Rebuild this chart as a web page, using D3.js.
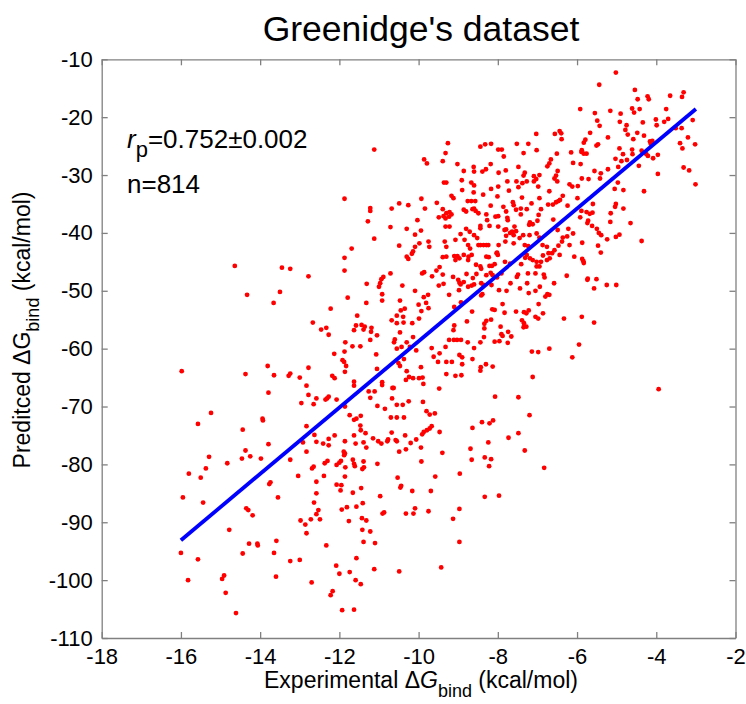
<!DOCTYPE html>
<html>
<head>
<meta charset="utf-8">
<script src="https://cdn.jsdelivr.net/npm/d3@7"></script>
<style>
  body { margin: 0; background: #fff; }
  svg text { font-family: "Liberation Sans", Arial, Helvetica, sans-serif; }
</style>
</head>
<body>
<svg id="chart" width="746" height="704"></svg>
<script>
// axis ticks
const xTicks = [-18, -16, -14, -12, -10, -8, -6, -4, -2];
const yTicks = [-110, -100, -90, -80, -70, -60, -50, -40, -30, -20, -10];

// fitted line end points (experimental, predicted)
const fitX = [-16, -3];
const fitY = [-93.1, -18.6];

const ptsFarLeftTop = [
  [-14.64,-45.7],[-13.45,-46.0],[-13.24,-46.2],[-12.78,-47.5],[-14.33,-50.7],[-13.50,-50.2],[-13.66,-52.1],
  [-15.98,-63.9],[-14.37,-64.4],[-13.81,-63.0],[-13.65,-64.6],[-13.28,-64.7],[-13.24,-64.3],[-13.00,-65.0],
  [-12.78,-63.3],[-12.83,-66.4],[-12.78,-68.0],[-13.79,-67.6],[-12.96,-69.4],[-15.24,-71.1],[-15.57,-73.0],
  [-13.94,-72.1],[-13.93,-72.4],[-14.44,-74.0],[-12.83,-73.4]
];
const ptsFarLeftBottom = [
  [-13.79,-76.5],[-14.37,-77.6],[-14.25,-78.6],[-14.46,-79.0],[-13.98,-79.0],[-15.29,-78.7],[-15.37,-80.7],
  [-14.83,-79.8],[-15.80,-81.6],[-15.50,-82.3],[-13.24,-79.2],[-12.92,-76.2],[-12.83,-77.8],[-13.04,-82.0],
  [-13.77,-83.4],[-13.74,-83.1],[-15.95,-85.7],[-15.44,-86.6],[-13.55,-85.7],[-14.35,-87.6],[-14.30,-87.9],
  [-14.19,-88.8],[-12.98,-89.7],[-12.86,-90.4],[-12.83,-91.9],[-14.78,-91.3],[-14.28,-93.7],[-14.07,-93.7],
  [-14.06,-94.0],[-13.59,-93.2],[-16.00,-95.3],[-15.57,-96.4],[-14.44,-95.4],[-13.65,-95.3],[-13.24,-96.7],
  [-13.00,-96.5],[-15.82,-100.0],[-14.91,-99.2],[-14.96,-99.8],[-14.87,-102.2],[-13.60,-99.4],[-14.61,-105.7]
];
const ptsLeftTop = [
  [-11.12,-25.6],[-9.86,-27.3],[-9.79,-28.0],[-9.39,-27.6],[-9.36,-31.3],[-11.87,-34.1],[-11.22,-35.7],
  [-11.22,-36.2],[-11.28,-38.0],[-11.12,-41.0],[-10.68,-35.8],[-10.49,-34.9],[-10.26,-35.2],[-9.93,-34.1],
  [-9.84,-35.8],[-9.54,-34.8],[-9.39,-35.9],[-9.49,-37.3],[-9.37,-37.1],[-10.03,-37.8],[-9.94,-39.6],
  [-10.30,-39.3],[-10.71,-39.0],[-10.09,-40.3],[-9.75,-41.5],[-9.73,-42.4],[-9.98,-41.8],[-10.09,-42.4],
  [-10.14,-43.2],[-10.17,-43.6],[-10.30,-44.1],[-10.26,-44.5],[-10.49,-42.2],[-11.69,-42.7],[-11.87,-44.3],
  [-11.87,-46.5],[-10.89,-47.6],[-10.94,-48.0],[-10.71,-47.0],[-10.97,-48.7],[-11.00,-49.3],[-10.92,-50.6],
  [-10.92,-51.7],[-11.31,-48.8],[-11.79,-51.2],[-11.32,-52.1],[-10.41,-49.1],[-10.09,-50.0],[-9.86,-46.8],
  [-9.87,-51.1],[-9.76,-50.7],[-9.81,-52.1],[-9.91,-47.0],[-9.66,-47.5],[-9.55,-46.5],[-9.47,-45.9],
  [-9.39,-47.2],[-9.49,-49.1],[-9.37,-48.8],[-10.47,-51.7],[-10.35,-53.1],[-10.00,-52.4],[-9.75,-53.0],
  [-9.93,-53.5],[-10.45,-53.4],[-10.55,-54.3],[-10.68,-55.1],[-10.55,-55.6],[-10.39,-54.5],[-10.38,-55.5],
  [-10.16,-55.6],[-9.99,-54.8],[-11.55,-54.3],[-12.67,-55.5],[-12.46,-56.7],[-12.33,-56.4],[-12.27,-57.6],
  [-12.22,-53.1],[-11.63,-56.8],[-11.58,-56.0],[-11.44,-55.9],[-11.39,-56.7],[-11.36,-56.2],[-11.19,-56.4],
  [-11.20,-57.1],[-11.05,-57.7],[-11.22,-58.5],[-10.47,-57.2],[-11.85,-58.9],[-11.67,-59.6],[-11.47,-59.6],
  [-10.60,-58.4],[-10.62,-58.9],[-10.30,-58.9],[-10.14,-58.0],[-10.55,-60.0],[-10.43,-59.7],[-10.22,-59.7],
  [-10.06,-60.3],[-9.67,-59.9],[-9.47,-60.8],[-9.62,-61.4],[-9.51,-62.3],[-9.94,-63.2],[-10.37,-61.8],
  [-10.51,-62.5],[-10.47,-63.0],[-10.30,-63.9],[-10.24,-64.9],[-10.14,-65.1],[-9.99,-65.1],[-9.90,-65.0],
  [-11.07,-61.0],[-11.05,-63.5],[-11.87,-60.5],[-11.92,-62.0],[-11.88,-62.3],[-11.83,-63.0],[-11.86,-64.0],
  [-12.13,-60.9],[-12.18,-64.7],[-12.12,-65.1]
];
const ptsLeftBottom = [
  [-11.63,-65.7],[-11.63,-66.4],[-10.92,-65.8],[-10.92,-66.3],[-10.32,-65.4],[-9.88,-66.1],[-12.65,-69.6],
  [-12.58,-68.6],[-12.31,-68.6],[-12.27,-68.3],[-12.35,-68.8],[-12.07,-68.8],[-11.86,-70.0],[-11.74,-71.5],
  [-11.63,-72.3],[-11.57,-72.1],[-11.46,-71.6],[-11.47,-73.3],[-11.46,-74.1],[-11.34,-74.6],[-11.26,-67.4],
  [-11.11,-67.4],[-11.22,-68.5],[-11.04,-69.9],[-10.85,-70.4],[-10.66,-66.8],[-10.63,-66.8],[-10.67,-68.6],
  [-10.55,-69.7],[-10.40,-69.7],[-10.25,-69.1],[-10.70,-71.9],[-10.55,-71.9],[-10.37,-71.9],[-10.68,-74.5],
  [-10.34,-75.0],[-10.20,-76.3],[-10.06,-75.7],[-9.91,-74.8],[-9.87,-74.4],[-9.79,-74.1],[-9.72,-73.8],
  [-9.67,-73.4],[-9.89,-69.2],[-9.80,-70.8],[-9.72,-71.4],[-9.59,-71.2],[-9.48,-66.9],[-9.47,-74.4],
  [-9.40,-78.0],[-9.94,-77.1],[-10.32,-77.4],[-10.49,-77.8],[-10.58,-75.8],[-10.55,-76.0],[-10.77,-75.7],
  [-10.79,-76.0],[-10.94,-76.4],[-11.02,-76.0],[-11.15,-75.5],[-11.32,-77.1],[-11.39,-76.2],[-11.59,-76.4],
  [-11.63,-75.0],[-11.86,-76.0],[-11.89,-77.8],[-11.86,-78.1],[-11.88,-78.4],[-11.96,-79.4],[-12.00,-79.7],
  [-12.07,-80.1],[-11.85,-80.5],[-11.66,-79.2],[-11.63,-79.9],[-11.61,-80.3],[-11.39,-79.5],[-11.38,-80.5],
  [-11.42,-80.8],[-11.04,-79.9],[-12.12,-75.0],[-12.27,-75.6],[-12.27,-76.7],[-12.41,-76.4],[-12.58,-76.1],
  [-12.63,-74.9],[-12.65,-80.4],[-12.69,-80.7],[-12.30,-79.4],[-12.37,-79.8],[-12.39,-82.0],[-12.58,-83.0],
  [-12.58,-85.0],[-12.64,-86.6],[-12.53,-87.9],[-12.58,-88.6],[-12.49,-89.5],[-12.72,-89.5],[-12.33,-94.0],
  [-11.95,-83.6],[-12.07,-83.5],[-11.97,-84.5],[-11.86,-82.1],[-11.66,-84.9],[-11.45,-84.1],[-11.81,-87.4],
  [-11.94,-87.8],[-11.57,-87.3],[-11.41,-86.7],[-11.43,-89.3],[-11.32,-89.7],[-11.76,-89.8],[-11.42,-91.3],
  [-11.22,-91.6],[-11.39,-93.4],[-11.10,-93.6],[-10.97,-85.5],[-10.91,-88.5],[-10.87,-88.3],[-10.53,-82.3],
  [-10.46,-84.0],[-10.44,-83.7],[-10.32,-88.5],[-10.16,-84.6],[-10.13,-88.5],[-10.09,-87.6],[-9.75,-88.1],
  [-9.69,-84.6],[-9.58,-82.1],[-9.93,-79.5],[-11.57,-96.2],[-12.08,-97.5],[-12.00,-98.9],[-11.74,-98.6],
  [-11.59,-100.0],[-11.46,-100.7],[-11.12,-98.1],[-10.49,-98.5],[-9.43,-97.8],[-12.70,-100.4],[-12.17,-101.9],
  [-12.22,-102.6],[-11.93,-105.2],[-11.63,-105.1]
];
const ptsMidTop = [
  [-7.03,-22.9],[-6.56,-22.9],[-6.44,-22.4],[-6.40,-22.8],[-6.39,-23.8],[-9.26,-24.5],[-9.32,-26.2],
  [-8.44,-25.1],[-8.32,-24.7],[-8.17,-24.6],[-7.99,-25.6],[-7.90,-25.6],[-7.85,-26.8],[-7.52,-24.6],
  [-7.23,-24.6],[-7.35,-26.2],[-7.02,-25.7],[-6.51,-26.3],[-6.15,-26.1],[-6.10,-27.9],[-9.02,-28.1],
  [-8.86,-29.3],[-8.61,-28.6],[-8.60,-29.4],[-8.39,-29.4],[-8.18,-28.1],[-8.30,-29.0],[-7.98,-29.6],
  [-7.80,-29.2],[-7.48,-28.6],[-7.32,-29.6],[-7.35,-30.1],[-7.09,-30.2],[-7.03,-30.7],[-6.95,-30.0],
  [-6.70,-28.0],[-6.66,-27.3],[-6.75,-28.5],[-6.49,-29.3],[-6.53,-30.1],[-6.57,-30.6],[-9.30,-31.3],
  [-8.91,-30.9],[-8.67,-31.3],[-8.60,-31.8],[-8.61,-33.0],[-8.17,-32.4],[-7.99,-32.0],[-7.76,-31.1],
  [-7.72,-32.7],[-7.53,-31.1],[-7.38,-31.4],[-7.48,-32.1],[-7.27,-31.1],[-7.09,-31.1],[-6.98,-32.0],
  [-6.70,-32.8],[-6.50,-31.1],[-6.19,-31.6],[-6.12,-32.0],[-9.17,-33.6],[-9.12,-34.0],[-8.90,-32.6],
  [-8.76,-34.5],[-8.67,-34.5],[-8.57,-34.5],[-8.60,-35.8],[-8.64,-35.9],[-8.37,-33.4],[-8.18,-35.3],
  [-8.01,-33.7],[-7.86,-35.5],[-7.62,-34.7],[-7.60,-35.2],[-7.39,-33.9],[-7.42,-35.8],[-7.27,-35.9],
  [-7.15,-34.9],[-6.95,-34.0],[-6.73,-35.1],[-6.61,-35.1],[-6.53,-34.7],[-6.47,-34.5],[-6.43,-34.3],
  [-6.36,-33.6],[-6.24,-35.3],[-6.91,-35.9],[-9.30,-36.6],[-9.22,-36.4],[-9.17,-36.8],[-9.23,-37.2],
  [-9.32,-37.5],[-8.86,-36.0],[-8.80,-36.3],[-8.56,-36.2],[-8.49,-36.6],[-8.29,-36.8],[-8.06,-37.2],
  [-7.99,-37.1],[-7.79,-36.3],[-7.76,-37.4],[-7.54,-36.0],[-7.42,-36.8],[-7.19,-38.2],[-7.12,-38.5],
  [-6.97,-36.9],[-7.00,-37.9],[-9.32,-38.9],[-9.22,-38.9],[-8.94,-40.2],[-8.80,-39.3],[-8.71,-39.8],
  [-8.60,-40.4],[-8.44,-38.8],[-8.44,-39.2],[-8.27,-37.8],[-8.21,-38.8],[-7.99,-38.9],[-7.79,-39.4],
  [-7.75,-37.8],[-7.58,-38.9],[-7.54,-39.7],[-7.83,-39.5],[-7.69,-40.0],[-7.64,-39.8],[-7.60,-40.4],
  [-7.79,-40.5],[-7.45,-40.9],[-7.21,-38.6],[-7.36,-40.4],[-7.20,-40.4],[-7.02,-40.1],[-6.60,-37.7],
  [-6.49,-39.5],[-6.22,-39.3],[-6.25,-40.6],[-6.10,-40.1]
];
const ptsMidCentre = [
  [-9.34,-41.5],[-9.30,-42.4],[-9.07,-41.2],[-8.84,-41.2],[-8.75,-42.1],[-8.70,-42.7],[-8.66,-43.8],
  [-8.49,-42.1],[-8.44,-42.1],[-8.36,-42.1],[-8.29,-42.1],[-8.24,-42.1],[-8.52,-40.9],[-8.02,-43.4],
  [-8.00,-43.8],[-7.98,-42.1],[-7.81,-41.5],[-7.60,-41.8],[-7.32,-42.1],[-7.23,-42.3],[-6.95,-40.8],
  [-6.87,-42.1],[-6.76,-42.4],[-6.47,-42.2],[-6.38,-41.5],[-6.36,-40.8],[-6.19,-42.1],[-6.57,-43.0],
  [-9.39,-44.2],[-9.30,-44.1],[-9.10,-44.0],[-9.07,-44.7],[-9.02,-44.0],[-8.97,-44.4],[-8.86,-43.8],
  [-8.74,-44.1],[-8.75,-44.7],[-8.55,-45.5],[-8.44,-45.8],[-8.42,-46.2],[-8.29,-44.1],[-8.23,-44.2],
  [-8.21,-45.7],[-8.15,-45.7],[-8.08,-45.4],[-8.03,-43.5],[-7.82,-45.0],[-7.69,-45.3],[-7.41,-45.4],
  [-7.31,-44.3],[-7.27,-43.8],[-7.19,-44.4],[-7.12,-44.7],[-7.02,-45.0],[-7.02,-45.8],[-6.91,-45.0],
  [-6.86,-43.9],[-6.76,-44.7],[-6.72,-43.5],[-6.63,-43.5],[-6.69,-44.4],[-6.44,-43.8],[-6.07,-44.1],
  [-9.13,-47.6],[-9.00,-48.1],[-8.97,-48.6],[-8.94,-48.9],[-8.86,-48.5],[-8.79,-47.1],[-8.63,-47.8],
  [-8.60,-48.9],[-8.54,-47.1],[-8.29,-47.3],[-8.18,-46.9],[-8.13,-47.3],[-8.42,-48.7],[-8.36,-49.0],
  [-8.02,-47.7],[-7.91,-47.0],[-7.68,-48.7],[-7.52,-47.6],[-7.49,-47.2],[-7.24,-47.0],[-7.05,-47.0],
  [-6.95,-45.8],[-6.84,-47.2],[-6.82,-47.7],[-6.58,-48.7],[-6.26,-47.4],[-9.23,-50.7],[-8.98,-49.9],
  [-8.75,-49.3],[-8.66,-49.1],[-8.39,-50.6],[-8.42,-50.8],[-8.16,-49.0],[-7.97,-49.9],[-7.78,-50.0],
  [-7.44,-49.6],[-7.26,-48.7],[-7.22,-50.4],[-7.05,-50.0],[-6.94,-49.3],[-6.80,-51.0],[-6.75,-50.6],
  [-6.70,-50.7],[-9.10,-52.8],[-8.93,-52.0],[-8.65,-53.6],[-8.14,-53.2],[-8.08,-53.3],[-7.88,-52.3],
  [-7.83,-53.8],[-7.54,-53.6],[-7.39,-55.1],[-7.34,-53.7],[-7.28,-53.9],[-7.22,-53.4],[-6.97,-52.3],
  [-7.05,-54.5],[-6.98,-54.8],[-6.86,-53.9],[-6.33,-54.8],[-9.10,-56.0],[-9.12,-56.8],[-8.78,-55.3],
  [-8.34,-56.5],[-8.34,-55.7],[-8.29,-55.2],[-8.17,-55.0],[-7.93,-56.2],[-7.91,-57.5],[-7.74,-57.1],
  [-7.66,-57.9],[-7.75,-59.0],[-7.35,-56.3],[-7.28,-56.2],[-7.34,-55.6],[-9.32,-59.7],[-9.23,-58.5],
  [-9.11,-58.5],[-9.03,-58.5],[-8.93,-58.5],[-8.76,-58.9],[-8.60,-59.9],[-8.44,-58.9],[-8.35,-58.0],
  [-8.08,-58.8],[-7.96,-58.7],[-7.88,-57.8],[-7.14,-60.5],[-6.98,-60.6],[-6.70,-60.0],[-6.12,-61.5],
  [-9.16,-62.3],[-8.97,-61.1],[-8.90,-61.5],[-8.90,-62.7],[-8.64,-61.8],[-8.43,-63.2],[-8.44,-63.8],
  [-8.30,-62.7],[-8.13,-63.1],[-9.07,-64.7],[-8.92,-64.6],[-9.30,-64.4],[-7.12,-64.9],[-9.30,-62.3]
];
const ptsMidBottom = [
  [-8.07,-68.3],[-7.48,-68.4],[-7.20,-71.5],[-8.40,-72.7],[-8.21,-72.9],[-8.12,-72.4],[-8.64,-73.7],
  [-7.48,-74.6],[-7.73,-75.4],[-8.24,-76.2],[-8.69,-77.3],[-7.32,-77.6],[-8.66,-79.2],[-8.33,-78.8],
  [-8.17,-79.1],[-8.22,-80.3],[-6.83,-80.6],[-8.96,-81.6],[-8.33,-85.6],[-7.97,-85.4],[-8.97,-87.7],
  [-9.13,-89.4],[-8.97,-93.4]
];
const ptsRight = [
  [-5.02,-12.3],[-5.44,-14.4],[-4.54,-15.3],[-4.22,-16.4],[-4.19,-16.9],[-4.47,-16.9],[-3.65,-16.3],
  [-3.31,-15.7],[-3.35,-16.5],[-5.92,-18.6],[-5.55,-19.3],[-5.16,-18.9],[-4.90,-19.4],[-4.61,-18.5],
  [-4.56,-19.2],[-4.42,-18.6],[-3.75,-18.6],[-5.49,-20.6],[-5.43,-21.5],[-4.92,-20.8],[-4.75,-21.4],
  [-4.78,-22.2],[-4.72,-23.0],[-4.34,-20.9],[-4.01,-20.4],[-3.99,-21.4],[-3.80,-20.8],[-3.70,-20.3],
  [-3.51,-21.9],[-3.36,-21.9],[-3.08,-20.5],[-3.02,-24.7],[-3.20,-23.5],[-3.40,-24.5],[-3.34,-25.4],
  [-3.31,-28.7],[-3.17,-29.2],[-3.01,-31.6],[-5.67,-22.7],[-5.79,-23.9],[-5.83,-24.4],[-5.88,-25.7],
  [-5.83,-26.3],[-5.76,-26.3],[-5.89,-26.0],[-5.51,-24.9],[-5.47,-24.7],[-5.22,-23.5],[-4.93,-25.4],
  [-4.84,-26.4],[-4.58,-23.8],[-4.48,-22.7],[-4.31,-23.2],[-4.61,-25.6],[-4.60,-26.4],[-4.74,-27.4],
  [-4.88,-27.6],[-5.03,-27.2],[-4.96,-28.6],[-4.37,-25.8],[-4.16,-24.2],[-4.10,-24.1],[-4.14,-24.6],
  [-4.21,-26.7],[-4.08,-27.1],[-3.96,-26.5],[-4.25,-26.4],[-4.44,-28.4],[-3.96,-29.8],[-5.91,-28.1],
  [-5.56,-29.3],[-5.40,-29.7],[-5.22,-29.0],[-5.88,-30.6],[-5.71,-30.7],[-5.42,-30.6],[-4.97,-31.3],
  [-5.05,-32.4],[-4.83,-32.6],[-4.31,-32.8],[-5.98,-31.9],[-5.99,-34.0],[-5.60,-35.0],[-5.02,-35.0],
  [-5.04,-35.5],[-4.83,-35.8],[-5.15,-36.6],[-5.16,-38.1],[-4.65,-38.3],[-4.37,-41.4],[-5.89,-36.2],
  [-5.76,-36.4],[-5.68,-36.7],[-5.61,-36.5],[-5.92,-37.3],[-5.72,-37.9],[-5.74,-38.3],[-5.62,-38.8],
  [-5.50,-39.3],[-5.45,-40.0],[-5.39,-40.4],[-5.24,-41.1],[-5.02,-40.7],[-4.93,-40.3],[-5.87,-41.7],
  [-5.47,-42.2],[-5.40,-43.4],[-5.87,-44.5],[-5.84,-44.9],[-5.83,-45.2],[-5.73,-47.9],[-5.74,-48.1],
  [-5.51,-48.0],[-5.57,-49.6],[-5.25,-49.0],[-5.01,-49.0],[-5.88,-54.5],[-5.57,-55.5],[-5.95,-59.3],
  [-3.94,-67.0]
];

const points = [].concat(ptsFarLeftTop, ptsFarLeftBottom, ptsLeftTop, ptsLeftBottom,
  ptsMidTop, ptsMidCentre, ptsMidBottom, ptsRight);

const svg = d3.select('#chart');
const margin = {left: 101.7, right: 10.5, top: 59.3, bottom: 66};
const width = 746 - margin.left - margin.right;
const height = 704 - margin.top - margin.bottom;

const sx = d3.scaleLinear().domain([-18, -2]).range([0, width]);
const sy = d3.scaleLinear().domain([-110, -10]).range([height, 0]);

svg.append('rect')
  .attr('width', 746)
  .attr('height', 704)
  .attr('fill', '#fff');

const g = svg.append('g')
  .attr('transform', `translate(${margin.left},${margin.top})`);

const axisColor = '#808080';
const tickFont = 22;
// MATLAB style labels use a plain hyphen for the minus sign
const plainFormat = d => String(d);

function styleAxis(sel, showLabels) {
  sel.select('.domain').attr('stroke', axisColor).attr('stroke-width', 1.3);
  sel.selectAll('.tick line').attr('stroke', axisColor).attr('stroke-width', 1.3);
  sel.selectAll('.tick text')
    .attr('fill', '#000')
    .style('font-size', `${tickFont}px`)
    .style('display', showLabels ? null : 'none');
}

const xAxis = d3.axisBottom(sx).tickValues(xTicks).tickFormat(plainFormat)
  .tickSizeInner(-6).tickSizeOuter(0).tickPadding(10);
const yAxis = d3.axisLeft(sy).tickValues(yTicks).tickFormat(plainFormat)
  .tickSizeInner(-6).tickSizeOuter(0).tickPadding(9);

g.append('g')
  .attr('class', 'x axis')
  .attr('transform', `translate(0,${height})`)
  .call(xAxis)
  .call(s => styleAxis(s, true));

g.append('g')
  .attr('class', 'x axis top')
  .call(d3.axisTop(sx).tickValues(xTicks).tickSizeInner(-6).tickSizeOuter(0))
  .call(s => styleAxis(s, false));

g.append('g')
  .attr('class', 'y axis')
  .call(yAxis)
  .call(s => styleAxis(s, true));

g.append('g')
  .attr('class', 'y axis right')
  .attr('transform', `translate(${width},0)`)
  .call(d3.axisRight(sy).tickValues(yTicks).tickSizeInner(-6).tickSizeOuter(0))
  .call(s => styleAxis(s, false));

// scatter
g.append('g')
  .selectAll('circle')
  .data(points)
  .join('circle')
  .attr('cx', d => sx(d[0]))
  .attr('cy', d => sy(d[1]))
  .attr('r', 2.4)
  .attr('fill', '#ff0000');

// fitted line
const fit = fitX.map((x, i) => [x, fitY[i]]);
g.append('path')
  .datum(fit)
  .attr('fill', 'none')
  .attr('stroke', '#0000ff')
  .attr('stroke-width', 3.8)
  .attr('d', d3.line().x(d => sx(d[0])).y(d => sy(d[1])));

// annotations
const rText = svg.append('text')
  .attr('x', 127)
  .attr('y', 148)
  .style('font-size', '26px');
rText.append('tspan').style('font-style', 'italic').text('r');
rText.append('tspan').attr('dy', 9).style('font-size', '22px').text('p');
rText.append('tspan').attr('dy', -9).text('=0.752±0.002');

svg.append('text')
  .attr('x', 127)
  .attr('y', 193)
  .style('font-size', '26px')
  .text('n=814');

// title
svg.append('text')
  .attr('x', 421)
  .attr('y', 41)
  .attr('text-anchor', 'middle')
  .style('font-size', '35.5px')
  .text('Greenidge\'s dataset');

// x label
const xl = svg.append('text')
  .attr('x', 421)
  .attr('y', 688)
  .attr('text-anchor', 'middle')
  .style('font-size', '23px');
xl.append('tspan').text('Experimental Δ');
xl.append('tspan').style('font-style', 'italic').text('G');
xl.append('tspan').attr('dy', 9).style('font-size', '18px').text('bind');
xl.append('tspan').attr('dy', -9).text(' (kcal/mol)');

// y label (upright G, as in the original)
const yl = svg.append('text')
  .attr('transform', 'translate(30,330) rotate(-90)')
  .attr('text-anchor', 'middle')
  .style('font-size', '23px');
yl.append('tspan').text('Preditced ΔG');
yl.append('tspan').attr('dy', 9).style('font-size', '18px').text('bind');
yl.append('tspan').attr('dy', -9).text(' (kcal/mol)');
</script>
</body>
</html>
